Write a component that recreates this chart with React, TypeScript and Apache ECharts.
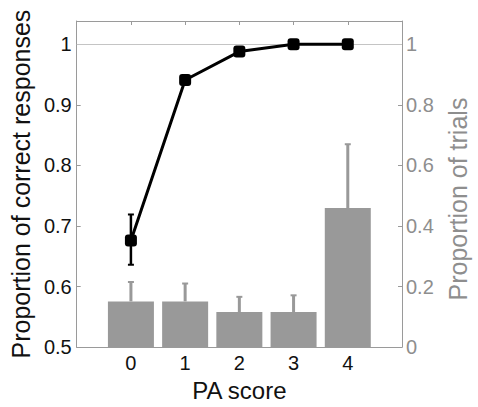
import React, { useEffect, useRef } from "react";
import * as echarts from "echarts";

const categories = [0, 1, 2, 3, 4];
const correct = [0.676, 0.941, 0.988, 1.0, 1.0];
const correctLow = [0.636, 0.935, 0.984, 1.0, 1.0];
const correctHigh = [0.719, 0.947, 0.992, 1.0, 1.0];
const trials = [0.151, 0.151, 0.116, 0.116, 0.459];
const trialsHigh = [0.215, 0.21, 0.166, 0.171, 0.67];
const leftTicks = [0.5, 0.6, 0.7, 0.8, 0.9, 1];
const rightTicks = [0, 0.2, 0.4, 0.6, 0.8, 1];

const FONT = "'Liberation Sans', Arial, sans-serif";
const AXIS_GRAY = "#9a9a9a";
const TEXT_GRAY = "#8e8e8e";
const BAR_GRAY = "#999999";

function errRender(color: string, lw: number, capW: number, lowerCap: boolean) {
  return (params: any, api: any) => {
    const x = api.value(0);
    const lo = api.value(1);
    const hi = api.value(2);
    const pLo = api.coord([x, lo]);
    const pHi = api.coord([x, hi]);
    const style = { stroke: color, lineWidth: lw };
    const children: any[] = [];
    if (Math.abs(pLo[1] - pHi[1]) > 0.5) {
      children.push({ type: "line", shape: { x1: pLo[0], y1: pLo[1], x2: pHi[0], y2: pHi[1] }, style });
      children.push({ type: "line", shape: { x1: pHi[0] - capW, y1: pHi[1], x2: pHi[0] + capW, y2: pHi[1] }, style: { stroke: color, lineWidth: 2 } });
      if (lowerCap) {
        children.push({ type: "line", shape: { x1: pLo[0] - capW, y1: pLo[1], x2: pLo[0] + capW, y2: pLo[1] }, style: { stroke: color, lineWidth: 2 } });
      }
    }
    return { type: "group", children };
  };
}

export default function App() {
  const ref = useRef<HTMLDivElement>(null);
  useEffect(() => {
    document.body.style.margin = "0";
    const chart = echarts.init(ref.current!, undefined, { renderer: "svg" });
    const option: any = {
      animation: false,
      backgroundColor: "#ffffff",
      textStyle: { fontFamily: FONT },
      grid: { left: 76, right: 64, top: 21, bottom: 49, containLabel: false },
      xAxis: [
        {
          type: "value",
          position: "bottom",
          min: -1,
          max: 5,
          interval: 1,
          splitLine: { show: false },
          axisLine: { show: true, onZero: false, lineStyle: { color: AXIS_GRAY, width: 1 } },
          axisTick: { show: false },
          axisLabel: {
            customValues: categories,
            fontSize: 20,
            color: "#111",
            fontFamily: FONT,
            margin: 6,
          },
          name: "PA score",
          nameLocation: "middle",
          nameGap: 28,
          nameTextStyle: { fontSize: 24, color: "#111", fontFamily: FONT },
        },
        {
          type: "value",
          position: "top",
          min: -1,
          max: 5,
          interval: 1,
          splitLine: { show: false },
          axisLine: { show: true, onZero: false, lineStyle: { color: AXIS_GRAY, width: 1 } },
          axisTick: { show: true, inside: true, length: 4, customValues: categories, lineStyle: { color: AXIS_GRAY } },
          axisLabel: { show: false },
        },
      ],
      yAxis: [
        {
          type: "value",
          position: "left",
          min: 0.5,
          max: 1.0385,
          interval: 0.1,
          splitLine: { show: false },
          axisLine: { show: true, onZero: false, lineStyle: { color: AXIS_GRAY, width: 1 } },
          axisTick: { show: true, inside: true, length: 4, customValues: leftTicks, lineStyle: { color: AXIS_GRAY } },
          axisLabel: {
            customValues: leftTicks,
            fontSize: 20,
            color: "#111",
            fontFamily: FONT,
            margin: 5,
            formatter: (v: number) => String(Math.round(v * 10) / 10),
          },
          name: "Proportion of correct responses",
          nameLocation: "middle",
          nameRotate: 90,
          nameGap: 38,
          nameTextStyle: { fontSize: 25, color: "#111", fontFamily: FONT },
        },
        {
          type: "value",
          position: "right",
          min: 0,
          max: 1.077,
          interval: 0.2,
          splitLine: { show: false },
          axisLine: { show: true, onZero: false, lineStyle: { color: AXIS_GRAY, width: 1 } },
          axisTick: { show: true, inside: true, length: 4, customValues: rightTicks, lineStyle: { color: AXIS_GRAY } },
          axisLabel: {
            customValues: rightTicks,
            fontSize: 20,
            color: TEXT_GRAY,
            fontFamily: FONT,
            margin: 4,
            formatter: (v: number) => String(Math.round(v * 10) / 10),
          },
          name: "Proportion of trials",
          nameLocation: "middle",
          nameRotate: 90,
          nameGap: 43,
          nameTextStyle: { fontSize: 25, color: TEXT_GRAY, fontFamily: FONT, padding: [0, 30, 0, 0] },
        },
      ],
      series: [
        {
          type: "bar",
          xAxisIndex: 0,
          yAxisIndex: 1,
          barWidth: 46,
          itemStyle: { color: BAR_GRAY },
          data: categories.map((c, i) => [c, trials[i]]),
          z: 2,
        },
        {
          type: "custom",
          xAxisIndex: 0,
          yAxisIndex: 1,
          renderItem: errRender(BAR_GRAY, 3, 3, false),
          encode: { x: 0, y: [1, 2] },
          data: categories.map((c, i) => [c, trials[i], trialsHigh[i]]),
          z: 1,
        },
        {
          type: "line",
          xAxisIndex: 0,
          yAxisIndex: 0,
          data: categories.map((c, i) => [c, correct[i]]),
          lineStyle: { color: "#000", width: 3 },
          itemStyle: { color: "#000" },
          symbol: "roundRect",
          symbolSize: 12,
          z: 5,
          markLine: {
            silent: true,
            symbol: "none",
            label: { show: false },
            lineStyle: { color: "#c4c4c4", width: 1, type: "solid" },
            data: [{ yAxis: 1 }],
            z: 1,
          },
        },
        {
          type: "custom",
          xAxisIndex: 0,
          yAxisIndex: 0,
          renderItem: errRender("#000", 2.5, 3, true),
          encode: { x: 0, y: [1, 2] },
          data: categories.map((c, i) => [c, correctLow[i], correctHigh[i]]),
          z: 6,
        },
      ],
    };
    chart.setOption(option);
    return () => chart.dispose();
  }, []);
  return (
    <div
      ref={ref}
      style={{ position: "fixed", left: 0, top: 0, width: 478, height: 407 }}
    />
  );
}
